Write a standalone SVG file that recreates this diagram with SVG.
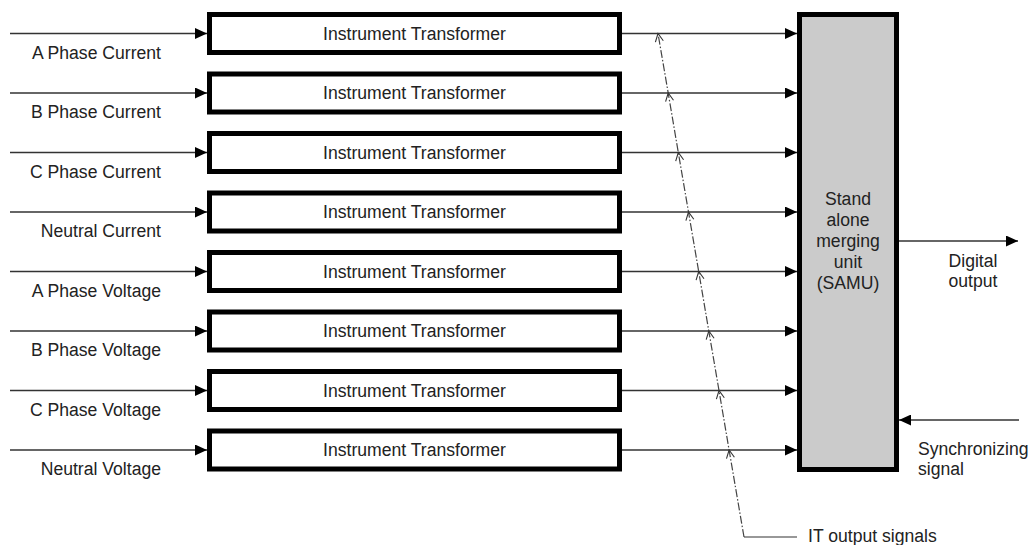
<svg xmlns="http://www.w3.org/2000/svg" width="1031" height="545" viewBox="0 0 1031 545">
<style>
.box{fill:#fff;stroke:#000;stroke-width:5}
.samu{fill:#cbcbcb;stroke:#000;stroke-width:5}
.ln{stroke:#333;stroke-width:1.6;fill:none}
.dash{stroke:#444;stroke-width:1.2;fill:none;stroke-dasharray:8 2 1.5 2}
text{font-family:"Liberation Sans",Arial,sans-serif;font-size:17.6px;fill:#222}
.c{text-anchor:middle}
.r{text-anchor:end}
</style>
<defs>
<marker id="arr" markerUnits="userSpaceOnUse" viewBox="0 0 12 11" refX="12" refY="5.5" markerWidth="12" markerHeight="11" orient="auto">
<path d="M0,0 L12,5.5 L0,11 z" fill="#000"/>
</marker>
<marker id="chev" markerUnits="userSpaceOnUse" viewBox="-10 -6 12 12" refX="0" refY="0" markerWidth="12" markerHeight="12" orient="auto">
<path d="M-8,-4 L0,0 L-8,4" fill="none" stroke="#333" stroke-width="1.1" stroke-dasharray="none"/>
</marker>
</defs>
<g id="connectors">
<line class="ln" x1="10" y1="33.5" x2="207" y2="33.5" marker-end="url(#arr)"/>
<line class="ln" x1="10" y1="93" x2="207" y2="93" marker-end="url(#arr)"/>
<line class="ln" x1="10" y1="152.5" x2="207" y2="152.5" marker-end="url(#arr)"/>
<line class="ln" x1="10" y1="212" x2="207" y2="212" marker-end="url(#arr)"/>
<line class="ln" x1="10" y1="271.5" x2="207" y2="271.5" marker-end="url(#arr)"/>
<line class="ln" x1="10" y1="331" x2="207" y2="331" marker-end="url(#arr)"/>
<line class="ln" x1="10" y1="390.5" x2="207" y2="390.5" marker-end="url(#arr)"/>
<line class="ln" x1="10" y1="450" x2="207" y2="450" marker-end="url(#arr)"/>
<line class="ln" x1="622" y1="33.5" x2="797" y2="33.5" marker-end="url(#arr)"/>
<line class="ln" x1="622" y1="93" x2="797" y2="93" marker-end="url(#arr)"/>
<line class="ln" x1="622" y1="152.5" x2="797" y2="152.5" marker-end="url(#arr)"/>
<line class="ln" x1="622" y1="212" x2="797" y2="212" marker-end="url(#arr)"/>
<line class="ln" x1="622" y1="271.5" x2="797" y2="271.5" marker-end="url(#arr)"/>
<line class="ln" x1="622" y1="331" x2="797" y2="331" marker-end="url(#arr)"/>
<line class="ln" x1="622" y1="390.5" x2="797" y2="390.5" marker-end="url(#arr)"/>
<line class="ln" x1="622" y1="450" x2="797" y2="450" marker-end="url(#arr)"/>
<line class="ln" x1="899" y1="241" x2="1018" y2="241" marker-end="url(#arr)"/>
<line class="ln" x1="1019" y1="420" x2="899" y2="420" marker-end="url(#arr)"/>
<path class="dash" d="M744,537 L729.1,450 L719,390.5 L708.8,331 L698.7,271.5 L688.5,212 L678.3,152.5 L668.2,93 L658,33.5" marker-mid="url(#chev)" marker-end="url(#chev)"/>
<line class="ln" x1="744" y1="537" x2="797" y2="537" style="stroke-width:1.2"/>
</g>
<g id="labels">
<text class="r" x="161" y="58.5">A Phase Current</text>
<text class="r" x="161" y="118">B Phase Current</text>
<text class="r" x="161" y="177.5">C Phase Current</text>
<text class="r" x="161" y="237">Neutral Current</text>
<text class="r" x="161" y="296.5">A Phase Voltage</text>
<text class="r" x="161" y="356">B Phase Voltage</text>
<text class="r" x="161" y="415.5">C Phase Voltage</text>
<text class="r" x="161" y="475">Neutral Voltage</text>
<text class="c" x="973" y="267">Digital</text>
<text class="c" x="973" y="287">output</text>
<text x="918" y="455">Synchronizing</text>
<text x="918" y="475">signal</text>
<text x="808" y="542">IT output signals</text>
</g>
<g id="it1"><rect class="box" x="209.5" y="14.5" width="410" height="38"/><text class="c" x="414.5" y="39.5">Instrument Transformer</text></g>
<g id="it2"><rect class="box" x="209.5" y="74" width="410" height="38"/><text class="c" x="414.5" y="99">Instrument Transformer</text></g>
<g id="it3"><rect class="box" x="209.5" y="133.5" width="410" height="38"/><text class="c" x="414.5" y="158.5">Instrument Transformer</text></g>
<g id="it4"><rect class="box" x="209.5" y="193" width="410" height="38"/><text class="c" x="414.5" y="218">Instrument Transformer</text></g>
<g id="it5"><rect class="box" x="209.5" y="252.5" width="410" height="38"/><text class="c" x="414.5" y="277.5">Instrument Transformer</text></g>
<g id="it6"><rect class="box" x="209.5" y="312" width="410" height="38"/><text class="c" x="414.5" y="337">Instrument Transformer</text></g>
<g id="it7"><rect class="box" x="209.5" y="371.5" width="410" height="38"/><text class="c" x="414.5" y="396.5">Instrument Transformer</text></g>
<g id="it8"><rect class="box" x="209.5" y="431" width="410" height="38"/><text class="c" x="414.5" y="456">Instrument Transformer</text></g>
<g id="samu">
<rect class="samu" x="799.5" y="14.5" width="97" height="455"/>
<text class="c" x="848" y="205">Stand</text>
<text class="c" x="848" y="226">alone</text>
<text class="c" x="848" y="247">merging</text>
<text class="c" x="848" y="268">unit</text>
<text class="c" x="848" y="289">(SAMU)</text>
</g>
</svg>
